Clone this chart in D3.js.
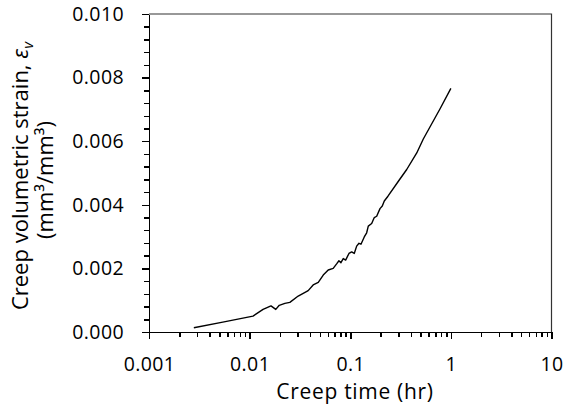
<!DOCTYPE html>
<html>
<head>
  <meta charset="utf-8" />
  <title>Creep volumetric strain</title>
  <script src="https://cdnjs.cloudflare.com/ajax/libs/d3/7.8.5/d3.min.js"></script>
  <style>
    body { margin: 0; background: #fff; }
    svg { display: block; font-family: "Open Sans", sans-serif; }
    .axis path, .axis line { stroke: #000; stroke-width: 1.5; shape-rendering: crispEdges; }
    .axis text { fill: #000; font-size: 19.5px; font-family: "Open Sans", sans-serif; letter-spacing: 0.4px; }
  </style>
</head>
<body>
  <svg id="chart" width="564" height="410"></svg>
  <script>
    // creep time (hr) and volumetric strain
    const timeHr = [0.00279, 0.00541, 0.0108, 0.0136, 0.0163, 0.0182, 0.0197, 0.0224, 0.0251,
      0.0304, 0.0382, 0.0428, 0.0481, 0.0539, 0.0604, 0.0677, 0.0732, 0.0772, 0.0808, 0.0852,
      0.0900, 0.0971, 0.1033, 0.1096, 0.1158, 0.1221, 0.1278, 0.1378, 0.1456, 0.1511, 0.1633,
      0.1733, 0.1831, 0.1975, 0.2082, 0.2179, 0.237, 0.307, 0.364, 0.458, 0.532, 0.781, 1.0]
    const strain = [0.000135, 0.00031, 0.00050, 0.00071, 0.00082, 0.00071, 0.00084, 0.00090, 0.00093,
      0.00113, 0.00130, 0.00148, 0.00156, 0.00179, 0.00195, 0.00200, 0.00214, 0.00224, 0.00218, 0.00231,
      0.00226, 0.00247, 0.00252, 0.00247, 0.00270, 0.00279, 0.00276, 0.00299, 0.00312, 0.00333, 0.00341,
      0.00360, 0.00364, 0.00388, 0.00396, 0.00412, 0.00427, 0.00478, 0.00511, 0.00563, 0.00607, 0.00702, 0.00766]

    const xTicks = [0.001, 0.01, 0.1, 1, 10]
    const xTickLabels = ['0.001', '0.01', '0.1', '1', '10']
    const yTicks = [0, 0.002, 0.004, 0.006, 0.008, 0.010]
    const yTickLabels = ['0.000', '0.002', '0.004', '0.006', '0.008', '0.010']

    const plotLeft = 149, plotRight = 551.5, plotTop = 14, plotBottom = 332

    let svg = d3.select('#chart')

    let xScale = d3.scaleLog().domain([0.001, 10]).range([plotLeft, plotRight])
    let yScale = d3.scaleLinear().domain([0, 0.010]).range([plotBottom, plotTop])

    // minor ticks
    let xMinor = []
    for (let d = 0.001; d < 9; d *= 10) {
      for (let k = 2; k <= 9; k++) xMinor.push(d * k)
    }
    let yMinor = d3.range(0, 0.0101, 0.0004)

    // plot frame (top and right)
    svg.append('path')
      .attr('d', 'M' + plotLeft + ',' + plotTop + 'H' + plotRight + 'V' + plotBottom)
      .style('fill', 'none')
      .style('stroke', '#333')
      .style('stroke-width', 1.2)

    svg.append('g').attr('class', 'axis')
      .attr('transform', 'translate(0,' + plotBottom + ')')
      .call(d3.axisBottom(xScale).tickValues(xMinor).tickSize(5).tickFormat('').tickSizeOuter(0))

    svg.append('g').attr('class', 'axis')
      .attr('transform', 'translate(0,' + plotBottom + ')')
      .call(d3.axisBottom(xScale).tickValues(xTicks).tickSize(7).tickPadding(18).tickSizeOuter(0)
        .tickFormat(function(d, i) { return xTickLabels[i] }))

    svg.append('g').attr('class', 'axis')
      .attr('transform', 'translate(' + plotLeft + ',0)')
      .call(d3.axisLeft(yScale).tickValues(yMinor).tickSize(5).tickFormat('').tickSizeOuter(0))

    svg.append('g').attr('class', 'axis')
      .attr('transform', 'translate(' + plotLeft + ',0)')
      .call(d3.axisLeft(yScale).tickValues(yTicks).tickSize(7).tickPadding(18).tickSizeOuter(0)
        .tickFormat(function(d, i) { return yTickLabels[i] }))

    let line = d3.line()
      .x(function(d, i) { return xScale(timeHr[i]) })
      .y(function(d) { return yScale(d) })

    svg.append('path')
      .attr('d', line(strain))
      .style('fill', 'none')
      .style('stroke', '#000')
      .style('stroke-width', 1.4)
      .style('stroke-linejoin', 'round')

    // axis titles
    svg.append('text')
      .attr('x', 355).attr('y', 399)
      .attr('text-anchor', 'middle')
      .style('font-size', '21px')
      .style('letter-spacing', '0.7px')
      .text('Creep time (hr)')

    let yt = svg.append('text')
      .attr('transform', 'translate(28,176) rotate(-90)')
      .attr('text-anchor', 'middle')
      .style('font-size', '22px')
    yt.append('tspan').text('Creep volumetric strain, ')
    yt.append('tspan').style('font-style', 'italic').text('ε')
    yt.append('tspan').style('font-style', 'italic').style('font-size', '15px').attr('dy', 5).text('v')

    svg.append('text')
      .attr('transform', 'translate(53,180) rotate(-90)')
      .attr('text-anchor', 'middle')
      .style('font-size', '22px')
      .text('(mm³/mm³)')
  </script>
</body>
</html>
